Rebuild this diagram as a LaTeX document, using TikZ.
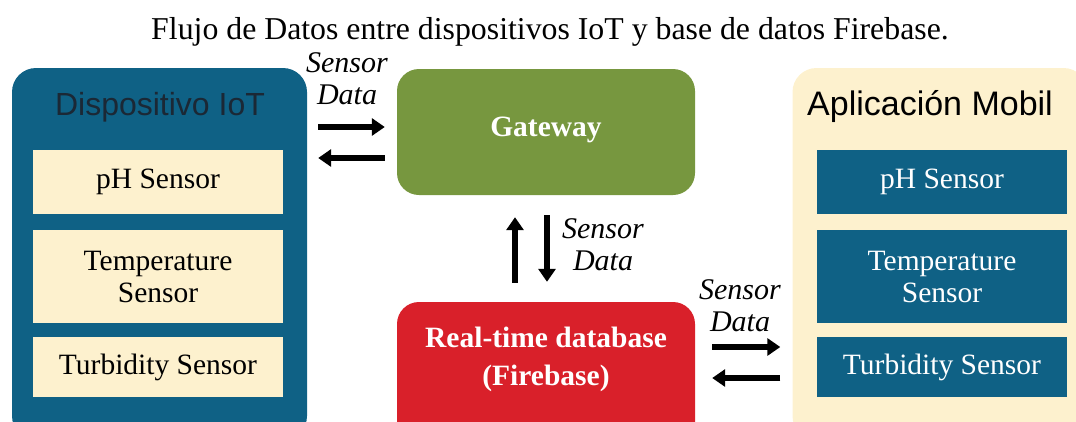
\documentclass[tikz,border=0pt]{standalone}
\usepackage{fontspec}
\setmainfont{Liberation Serif}
\setsansfont{Liberation Sans}
\usepackage{xcolor}
\usetikzlibrary{arrows.meta}

\definecolor{iotblue}{HTML}{0F6185}
\definecolor{cream}{HTML}{FDF1CE}
\definecolor{gwgreen}{HTML}{77973F}
\definecolor{fbred}{HTML}{D9202A}
\definecolor{titledark}{HTML}{1B2835}

\tikzset{
  panel/.style={rounded corners=24pt, minimum width=295pt, minimum height=372pt, inner sep=0pt},
  paneltitle/.style={font=\sffamily\fontsize{32}{36}\selectfont, inner sep=0pt},
  sensorbox/.style={minimum width=250pt, inner sep=0pt, align=center, font=\fontsize{29.5}{32}\selectfont},
  hub/.style={rounded corners=22pt, minimum width=298pt, inner sep=0pt},
  hubtext/.style={text=white, align=center, font=\bfseries\fontsize{29.5}{38}\selectfont},
  flow/.style={line width=5.5pt, -{Triangle[length=13pt,width=17pt]}},
  flowlabel/.style={align=center, font=\itshape\fontsize{30}{32}\selectfont}
}

\begin{document}
\begin{tikzpicture}[x=1pt,y=-1pt]
  \useasboundingbox (0,0) rectangle (1076,421);
  \clip (0,0) rectangle (1076,421);

  \node[font=\fontsize{31.8}{36}\selectfont] (title) at (550,32)
    {Flujo de Datos entre dispositivos IoT y base de datos Firebase.};

  % side panels
  \node[panel, fill=iotblue] (iot) at (159.5,254) {};
  \node[panel, fill=cream] (app) at (940,254) {};
  \node[paneltitle, text=titledark] (iot-title) at (160,107) {Dispositivo IoT};
  \node[paneltitle, text=black, font=\sffamily\fontsize{34}{36}\selectfont] (app-title) at (930,107) {Aplicación Mobil};

  % sensor boxes
  \foreach \side/\cx/\bg/\fg in {iot/158/cream/black, app/942/iotblue/white}{
    \node[sensorbox, fill=\bg, text=\fg, minimum height=64pt] (\side-ph) at (\cx,182) {pH Sensor};
    \node[sensorbox, fill=\bg, text=\fg, minimum height=93pt] (\side-temp) at (\cx,276.5) {Temperature\\Sensor};
    \node[sensorbox, fill=\bg, text=\fg, minimum height=60pt] (\side-turb) at (\cx,367) {Turbidity Sensor};
  }

  % gateway and database
  \node[hub, fill=gwgreen, minimum height=126pt] (gw) at (546,132) {};
  \node[hubtext] (gw-text) at (546,130) {Gateway};
  \node[hub, fill=fbred, minimum height=150pt] (db) at (546,377) {};
  \node[hubtext] (db-text) at (546,359) {Real-time database\\(Firebase)};

  % data flows
  \draw[flow, shorten <=11pt, shorten >=12pt] (iot.east |- 0,127) -- (gw.west |- 0,127);
  \draw[flow, shorten <=12pt, shorten >=11pt] (gw.west |- 0,158) -- (iot.east |- 0,158);
  \draw[flow, shorten <=19pt, shorten >=22pt] (db.north -| 515,0) -- (gw.south -| 515,0);
  \draw[flow, shorten <=20pt, shorten >=20pt] (gw.south -| 547,0) -- (db.north -| 547,0);
  \draw[flow, shorten <=17pt, shorten >=12pt] (db.east |- 0,347) -- (app.west |- 0,347);
  \draw[flow, shorten <=12pt, shorten >=17pt] (app.west |- 0,378) -- (db.east |- 0,378);

  \node[flowlabel] (lbl-gw) at (347,79) {Sensor\\Data};
  \node[flowlabel] (lbl-db) at (603,245) {Sensor\\Data};
  \node[flowlabel] (lbl-app) at (740,306) {Sensor\\Data};
\end{tikzpicture}
\end{document}
